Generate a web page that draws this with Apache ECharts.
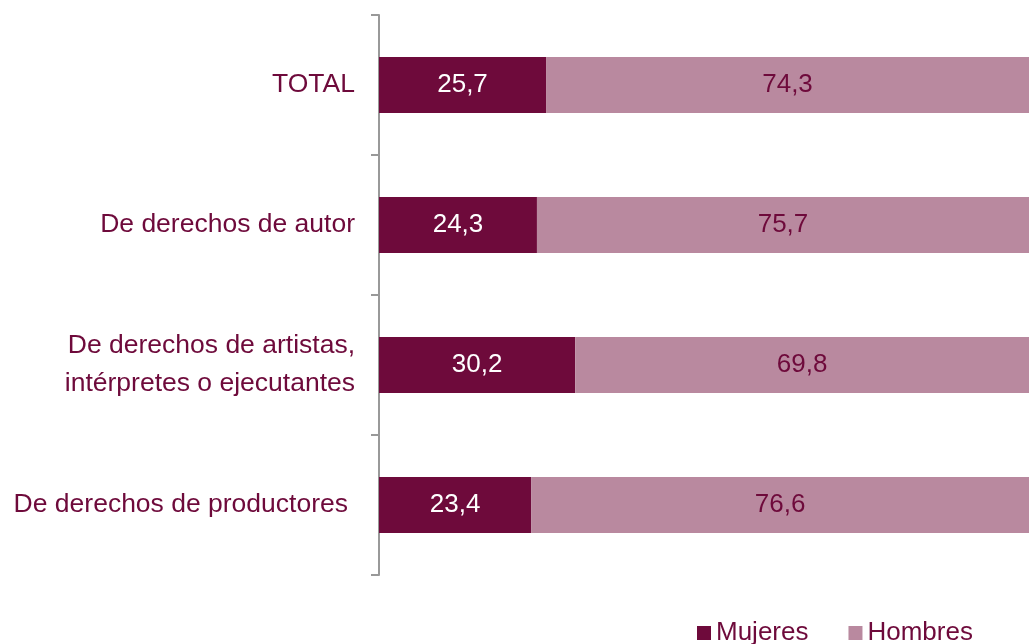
<!DOCTYPE html>
<html>
<head>
<meta charset="utf-8">
<script src="https://cdn.jsdelivr.net/npm/echarts@6/dist/echarts.min.js"></script>
<style>html,body{margin:0;padding:0;background:#fff}#c{width:1029px;height:644px}</style>
</head>
<body>
<div id="c"></div>
<script>
const categories = ['TOTAL', 'De derechos de autor', 'De derechos de artistas,\nintérpretes o ejecutantes', 'De derechos de productores'];
const mujeres = [25.7, 24.3, 30.2, 23.4];
const hombres = [74.3, 75.7, 69.8, 76.6];
const seriesNames = ['Mujeres', 'Hombres'];

const DARK = '#6E0A3B';
const LIGHT = '#B9899F';
const fmt = p => p.value.toFixed(1).replace('.', ',');

const chart = echarts.init(document.getElementById('c'));
chart.setOption({
  animation: false,
  textStyle: { fontFamily: 'Liberation Sans, Arial, sans-serif' },
  grid: { left: 379, right: -4, top: 15, bottom: 69 },
  xAxis: { type: 'value', min: 0, max: 100, show: false },
  yAxis: {
    type: 'category', inverse: true, data: categories,
    axisLine: { lineStyle: { color: '#999999', width: 2 } },
    axisTick: { show: true, length: 8, lineStyle: { color: '#999999', width: 2 } },
    axisLabel: {
      margin: 24, fontSize: 26.5, color: DARK, lineHeight: 38,
      formatter: (v, i) => i === 3 ? '{p|' + v + '}' : v,
      rich: { p: { fontSize: 26.5, color: DARK, padding: [0, 7, 0, 0] } }
    }
  },
  legend: {
    bottom: -7, left: 692, itemWidth: 14, itemHeight: 14, itemGap: 40,
    icon: 'rect',
    textStyle: { fontSize: 26, color: DARK },
    data: seriesNames
  },
  series: [
    { name: seriesNames[0], type: 'bar', stack: 't', data: mujeres, barWidth: '40%',
      itemStyle: { color: DARK },
      label: { show: true, position: 'inside', color: '#ffffff', fontSize: 26, formatter: fmt } },
    { name: seriesNames[1], type: 'bar', stack: 't', data: hombres, barWidth: '40%',
      itemStyle: { color: LIGHT },
      label: { show: true, position: 'inside', color: DARK, fontSize: 26, formatter: fmt } }
  ]
});
</script>
</body>
</html>
